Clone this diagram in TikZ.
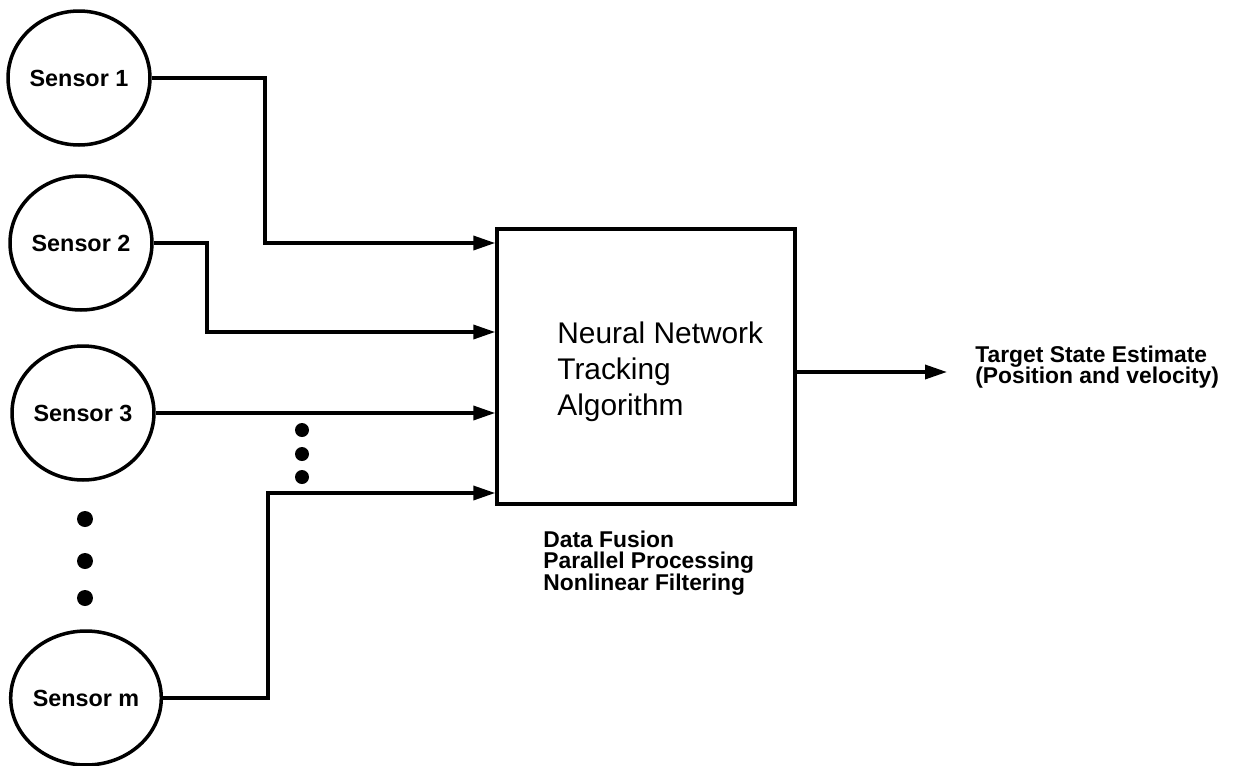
\documentclass[tikz,border=0pt]{standalone}
\usepackage{fontspec}
\setmainfont{Liberation Sans}
\usetikzlibrary{arrows.meta, positioning, shapes.geometric, calc}

\begin{document}
\begin{tikzpicture}[
    x=0.02cm, y=-0.02cm,
    >={Triangle[length=0.44cm, width=0.28cm]},
    sensor/.style={ellipse, draw, line width=2pt, minimum width=2.84cm,
                   minimum height=2.68cm, inner sep=0pt,
                   font=\fontsize{13.3}{15}\selectfont\bfseries},
    algbox/.style={rectangle, draw, line width=2pt,
                   minimum width=5.96cm, minimum height=5.5cm},
    lbl/.style={align=left, inner sep=0pt, anchor=west,
                font=\fontsize{13}{12.3}\selectfont\bfseries},
    arr/.style={->, line width=2pt},
]
\useasboundingbox[fill=white] (0,0) rectangle (1235,765);

\node[sensor] (s1) at (79,78) {Sensor 1};
\node[sensor] (s2) at (81,243) {Sensor 2};
\node[sensor] (s3) at (83,413) {Sensor 3};
\node[sensor] (sm) at (86,698) {Sensor m};
\node[algbox] (box) at (646,366.5) {};
\node[align=left, inner sep=0pt, anchor=west,
      font=\fontsize{17}{20.5}\selectfont] (algtext) at (557,372)
      {Neural Network\\Tracking\\Algorithm};
\node[lbl] (tasks) at (543,563) {Data Fusion\\Parallel Processing\\Nonlinear Filtering};
\node[lbl] (target) at (975,367) {Target State Estimate\\(Position and velocity)};
\coordinate (outtip) at (947,372);

% vertical ellipses
\foreach \y in {519,561,598} \fill (85,\y) circle (0.16cm);
\foreach \y in {430,454,477} \fill (302,\y) circle (0.14cm);

\draw[arr] (s1.east) -- ++(113,0) |- (box.west |- s2.east);
\draw[arr] (s2.east) -- ++(53,0) |- (box.west |- 0,332);
\draw[arr] (s3.east) -- (box.west |- s3.east);
\draw[arr] (sm.east) -- ++(105,0) |- (box.west |- 0,493);
\draw[arr] (box.east |- outtip) -- (outtip);
\end{tikzpicture}
\end{document}
